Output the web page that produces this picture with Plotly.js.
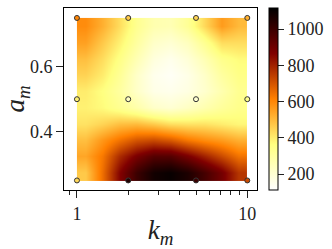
<!DOCTYPE html>
<html>
<head>
<meta charset="utf-8">
<script src="https://cdn.plot.ly/plotly-3.0.1.min.js"></script>
<style>html,body{margin:0;padding:0;background:#fff;}#chart{width:332px;height:249px;}</style>
</head>
<body>
<div id="chart"></div>
<script>
// Heatmap cell edges (k_m on log axis, a_m linear)
const kEdges = [1, 1.26, 1.58, 2, 2.51, 3.16, 3.98, 5.01, 6.31, 7.94, 10];
const aEdges = [0.25, 0.30, 0.35, 0.40, 0.45, 0.50, 0.55, 0.60, 0.65, 0.70, 0.75];
// Values, rows from a_m = 0.275 (bottom) to 0.725 (top)
const zRow0275 = [470, 650, 860, 1000, 1080, 1100, 1060, 980, 890, 760];
const zRow0325 = [540, 630, 780, 880, 950, 950, 880, 800, 720, 640];
const zRow0375 = [490, 570, 640, 700, 720, 690, 630, 590, 560, 520];
const zRow0425 = [420, 450, 490, 500, 470, 430, 420, 420, 400, 380];
const zRow0475 = [390, 370, 330, 280, 220, 200, 230, 270, 310, 340];
const zRow0525 = [400, 360, 300, 220, 160, 150, 170, 210, 270, 330];
const zRow0575 = [450, 400, 320, 220, 150, 130, 160, 220, 300, 350];
const zRow0625 = [490, 430, 350, 260, 180, 150, 190, 260, 340, 370];
const zRow0675 = [550, 470, 390, 300, 220, 200, 240, 330, 430, 430];
const zRow0725 = [590, 520, 430, 330, 270, 260, 320, 440, 560, 500];
const zGrid = [zRow0275, zRow0325, zRow0375, zRow0425, zRow0475, zRow0525, zRow0575, zRow0625, zRow0675, zRow0725];

// Sampled points
const ptK = [1, 2, 5, 10, 1, 2, 5, 10, 1, 2, 5, 10];
const ptA = [0.25, 0.25, 0.25, 0.25, 0.5, 0.5, 0.5, 0.5, 0.75, 0.75, 0.75, 0.75];
const ptV = [440, 1050, 1000, 720, 390, 230, 200, 340, 600, 470, 450, 520];

const cbTicks = [200, 400, 600, 800, 1000];
const xMinorTicks = [0.9, 2, 3, 4, 5, 6, 7, 8, 9];

const zMin = 112, zMax = 1116;
const afmhotR = [
  [0, 'rgb(255,255,255)'],
  [0.25, 'rgb(255,255,128)'],
  [0.5, 'rgb(255,128,0)'],
  [0.75, 'rgb(128,0,0)'],
  [1, 'rgb(0,0,0)']
];
const font = {family: '"Liberation Serif", "DejaVu Serif", serif', size: 18, color: '#222'};

const heat = {
  type: 'heatmap', x: kEdges, y: aEdges, z: zGrid,
  zsmooth: 'best', zmin: zMin, zmax: zMax, colorscale: afmhotR,
  hoverinfo: 'skip',
  colorbar: {
    x: 1.058, xanchor: 'left', xpad: 0, ypad: 0, y: 0.5, yanchor: 'middle',
    len: 1, lenmode: 'fraction', thickness: 9, thicknessmode: 'pixels',
    outlinewidth: 1, outlinecolor: '#000',
    tickmode: 'array', tickvals: cbTicks, ticktext: cbTicks.map(String),
    ticks: 'outside', ticklen: 6, tickwidth: 1, tickcolor: '#222',
    tickfont: font
  }
};
const pts = {
  type: 'scatter', mode: 'markers', x: ptK, y: ptA,
  marker: {size: 5, color: ptV, colorscale: afmhotR, cmin: zMin, cmax: zMax,
           showscale: false, line: {color: '#333', width: 1}},
  hoverinfo: 'skip', cliponaxis: false
};

const layout = {
  width: 332, height: 249,
  margin: {l: 64, r: 74, t: 8, b: 59, pad: 0},
  paper_bgcolor: '#fff', plot_bgcolor: '#fff',
  showlegend: false, font: font,
  xaxis: {
    type: 'log', range: [-0.076, 1.057], showgrid: false, zeroline: false,
    showline: true, linecolor: '#000', linewidth: 1, mirror: true,
    tickmode: 'array', tickvals: [1, 10], ticktext: ['1', '10'],
    ticks: 'outside', ticklen: 7, tickwidth: 1, tickcolor: '#222',
    minor: {tickmode: 'array', tickvals: xMinorTicks, ticks: 'outside', ticklen: 4, tickwidth: 1, tickcolor: '#222', showgrid: false},
    tickfont: font,
    title: {text: '<i>k</i><sub><i>m</i></sub>', font: {family: font.family, size: 27, color: '#222'}, standoff: 6}
  },
  yaxis: {
    range: [0.2206, 0.7806], showgrid: false, zeroline: false,
    showline: true, linecolor: '#000', linewidth: 1, mirror: true,
    tickmode: 'array', tickvals: [0.4, 0.6], ticktext: ['0.4', '0.6'],
    ticks: 'outside', ticklen: 7, tickwidth: 1, tickcolor: '#222',
    tickfont: font,
    title: {text: '<i>a</i><sub><i>m</i></sub>', font: {family: font.family, size: 27, color: '#222'}, standoff: 6}
  }
};
Plotly.newPlot('chart', [heat, pts], layout, {staticPlot: true, displayModeBar: false});
</script>
</body>
</html>
